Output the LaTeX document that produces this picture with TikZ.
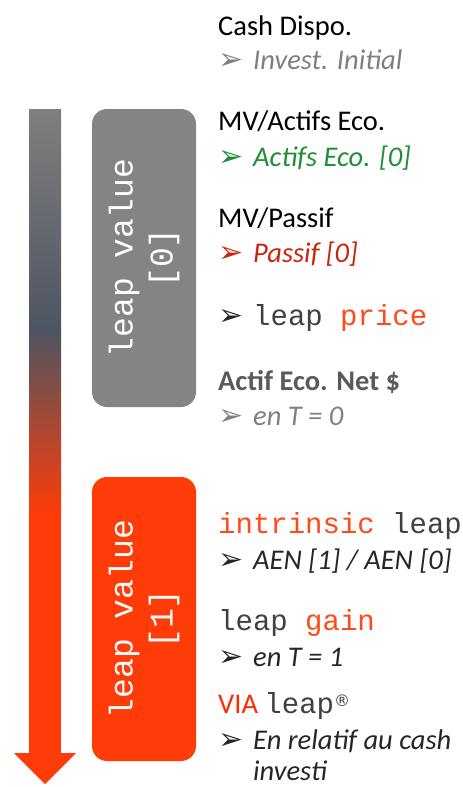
\documentclass[tikz,border=0pt]{standalone}
\usepackage{fontspec}
\setmainfont{Carlito}
\setmonofont{Liberation Mono}
\newfontfamily\symfont{DejaVu Sans}
\definecolor{boxgray}{HTML}{848484}
\definecolor{leaporange}{HTML}{FF3C08}
\definecolor{priceorange}{HTML}{FF4A1C}
\definecolor{slate}{HTML}{4E5562}
\definecolor{ecogreen}{HTML}{1F8F35}
\definecolor{passifred}{HTML}{C9250D}
\definecolor{darktext}{HTML}{262626}
\definecolor{monogray}{HTML}{404040}
\definecolor{midgray}{HTML}{7F7F7F}
\definecolor{netgray}{HTML}{5A5A5A}
\definecolor{viared}{HTML}{FF2A00}
\newcommand{\bul}[1]{\makebox[35pt][l]{\raisebox{0pt}{\fontsize{30}{30}\symfont\color{#1}➢}}}
\begin{document}
\begin{tikzpicture}[x=1pt,y=-1pt,
  txt/.style={anchor=base west, inner sep=0pt, font=\fontsize{28.5}{32}\selectfont},
  mono/.style={anchor=base west, inner sep=0pt, font=\fontsize{29}{32}\selectfont\ttfamily},
  leapbox/.style={rounded corners=15pt, minimum width=104pt, inner sep=0pt},
  boxlabel/.style={rotate=90, align=center, text=white, inner sep=0pt,
    font=\fontsize{33}{40}\selectfont\ttfamily}]
\useasboundingbox (0,0) rectangle (463,787);
% time arrow
\shade[top color=midgray, bottom color=slate] (29,109) rectangle (61,331);
\shade[top color=slate, bottom color=leaporange] (29,330) rectangle (61,516);
\fill[leaporange] (29,515) rectangle (61,754);
\fill[leaporange] (14,753) -- (76,753) -- (45,784) -- cycle;
% boxes
\node[leapbox, fill=boxgray, minimum height=298pt] (v0) at (144,258) {};
\node[boxlabel] (v0text) at (v0.center) {leap value\\{[0]}};
\node[leapbox, fill=leaporange, minimum height=284pt] (v1) at (144,619) {};
\node[boxlabel] (v1text) at (v1.center) {leap value\\{[1]}};
% right column
\node[txt] (cash) at (218,35) {Cash Dispo.};
\node[txt, text=midgray] (invest) at (218,69) {\bul{midgray}\textit{Invest. Initial}};
\node[txt] (mvactifs) at (218,130) {MV/Actifs Eco.};
\node[txt, text=ecogreen] (actifs) at (218,166) {\bul{ecogreen}\textit{Actifs Eco. [0]}};
\node[txt] (mvpassif) at (218,227) {MV/Passif};
\node[txt, text=passifred] (passif) at (218,262) {\bul{passifred}\textit{Passif [0]}};
\node[txt] (price) at (218,325) {\bul{darktext}{\fontsize{29}{32}\selectfont\ttfamily\color{monogray}leap \color{priceorange}price}};
\node[txt, text=netgray] (net) at (218,390) {\textbf{Actif Eco. Net \$}};
\node[txt, text=midgray] (t0) at (218,425) {\bul{midgray}\textit{en T = 0}};
\node[mono] (intrinsic) at (218,533) {\color{priceorange}intrinsic \color{monogray}leap};
\node[txt, text=darktext] (aen) at (218,569) {\bul{darktext}\textit{AEN [1] / AEN [0]}};
\node[mono] (gain) at (218,630) {\color{monogray}leap \color{priceorange}gain};
\node[txt, text=darktext] (t1) at (218,666) {\bul{darktext}\textit{en T = 1}};
\node[txt] (via) at (218,713) {\color{viared}VIA {\fontsize{29}{32}\selectfont\ttfamily\color{monogray}leap}\raisebox{7pt}{\fontsize{16}{16}\symfont\color{monogray}®}};
\node[txt, text=darktext] (rel) at (218,749) {\bul{darktext}\textit{En relatif au cash}};
\node[txt, text=darktext] (investi) at (253,780) {\textit{investi}};
\end{tikzpicture}
\end{document}
